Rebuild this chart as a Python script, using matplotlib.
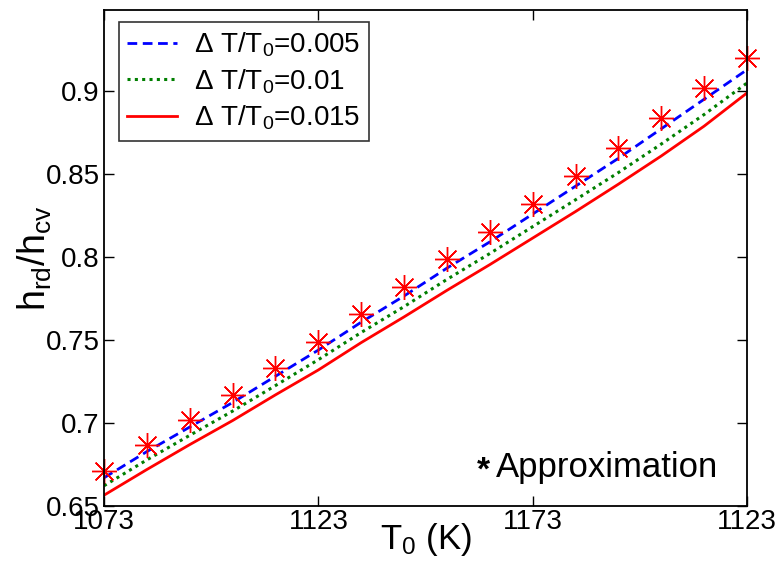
import matplotlib
matplotlib.use("Agg")
import matplotlib.pyplot as plt

plt.rcParams['font.family'] = ['Liberation Sans', 'DejaVu Sans']
plt.rcParams['mathtext.fontset'] = 'custom'
plt.rcParams['mathtext.rm'] = 'Liberation Sans'
plt.rcParams['mathtext.it'] = 'Liberation Sans'

T0 = [1073, 1083, 1093, 1103, 1113, 1123, 1133, 1143, 1153, 1163, 1173, 1183, 1193, 1203, 1213, 1223]
approx = [0.671, 0.687, 0.702, 0.717, 0.733, 0.749, 0.766, 0.782, 0.799, 0.815, 0.832, 0.849, 0.866, 0.884, 0.902, 0.920]
ratio_005 = [0.667, 0.6828, 0.6976, 0.7124, 0.7282, 0.744, 0.7608, 0.7766, 0.7934, 0.8092, 0.826, 0.8428, 0.8596, 0.8774, 0.8952, 0.913]
ratio_010 = [0.6622, 0.6778, 0.6926, 0.7072, 0.7226, 0.7382, 0.7546, 0.7702, 0.7866, 0.8022, 0.8184, 0.8346, 0.8510, 0.8682, 0.8860, 0.9050]
ratio_015 = [0.6565, 0.672, 0.687, 0.7015, 0.717, 0.732, 0.7485, 0.764, 0.780, 0.7955, 0.8115, 0.8275, 0.844, 0.861, 0.879, 0.899]
labels = [r'Δ T/T$_0$=0.005', r'Δ T/T$_0$=0.01', r'Δ T/T$_0$=0.015']
xticks = [1073, 1123, 1173, 1223]
xticklabels = ['1073', '1123', '1173', '1123']
yticks = [0.65, 0.7, 0.75, 0.8, 0.85, 0.9]
yticklabels = ['0.65', '0.7', '0.75', '0.8', '0.85', '0.9']

fig = plt.figure(figsize=(7.8, 5.63), dpi=100)
ax = fig.add_axes([104/780, 1-506/563, 643/780, 496/563])

ax.plot(T0, ratio_005, color='#0000ff', linestyle=(0, (3.5, 2)), lw=2.0, label=labels[0])
ax.plot(T0, ratio_010, color='#007f00', linestyle=(0, (1, 1.4)), lw=2.2, label=labels[1])
ax.plot(T0, ratio_015, color='#ff0000', linestyle='-', lw=2.0, label=labels[2])
ax.plot(T0, approx, linestyle='none', marker=(8, 2, 0), markersize=18, markeredgewidth=1.0,
        color='#ff0000', clip_on=False)

ax.set_xlim(1073, 1223)
ax.set_ylim(0.65, 0.949)
ax.set_xticks(xticks)
ax.set_xticklabels(xticklabels)
ax.set_yticks(yticks)
ax.set_yticklabels(yticklabels)
ax.tick_params(direction='in', length=7, width=1, labelsize=20, top=True, right=True, pad=3)
ax.tick_params(axis='x', pad=2)
for s in ax.spines.values():
    s.set_linewidth(1.3)

ax.set_xlabel(r'T$_0$ (K)', fontsize=25, labelpad=-10)
ax.set_ylabel(r'h$_{rd}$/h$_{cv}$', fontsize=27, labelpad=-6)

leg = ax.legend(loc='upper left', bbox_to_anchor=(0.0233, 0.976), borderaxespad=0,
                fontsize=20, frameon=True, fancybox=False, handlelength=1.8,
                handletextpad=0.6, labelspacing=0.3, borderpad=0.3)
leg.get_frame().set_edgecolor('black')
leg.get_frame().set_linewidth(1.2)

ax.text(0.590, 0.071, '*', transform=ax.transAxes, fontsize=24, fontweight='bold',
        ha='center', va='center')
ax.text(0.609, 0.078, 'Approximation', transform=ax.transAxes, fontsize=25,
        ha='left', va='center')

fig.savefig('out.png', dpi=100)
